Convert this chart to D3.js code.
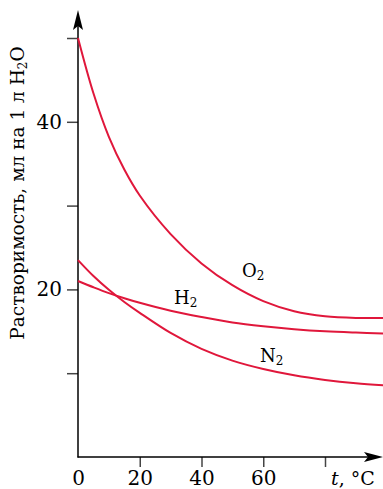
<!DOCTYPE html>
<html>
<head>
<meta charset="utf-8">
<script src="https://cdn.jsdelivr.net/npm/d3@7"></script>
<style>
  body { margin: 0; background: #fff; }
  svg { display: block; }
</style>
</head>
<body>
<svg id="chart" width="383" height="489"></svg>
<script>
// temperatures, °C
const temps = [0, 5, 10, 15, 20, 30, 40, 50, 60, 70, 80, 90, 99];
// solubility, ml per 1 l of water
const o2 = [50, 43.4, 38.2, 34.3, 31.2, 26.6, 23.1, 20.5, 18.6, 17.4, 16.8, 16.6, 16.6];
const h2 = [21.0, 20.25, 19.55, 18.95, 18.4, 17.45, 16.7, 16.05, 15.6, 15.25, 15.0, 14.85, 14.75];
const n2 = [23.5, 21.6, 19.95, 18.5, 17.2, 14.8, 12.9, 11.5, 10.5, 9.75, 9.2, 8.8, 8.55];

const yTicks = [10, 20, 30, 40, 50];
const yLabeled = [20, 40];
const xTicks = [0, 20, 40, 60, 80];
const xLabeled = [0, 20, 40, 60];

const series = [
  { name: "O", sub: "2", values: o2 },
  { name: "H", sub: "2", values: h2 },
  { name: "N", sub: "2", values: n2 },
];

const red = "#e0173b";
const font = "'DejaVu Serif', serif";

const svg = d3.select("#chart");

const x = d3.scaleLinear().domain([0, 80]).range([78, 325]);
const y = d3.scaleLinear().domain([0, 50]).range([457, 38]);

// axes
const yAxis = d3.axisLeft(y)
  .tickValues(yTicks)
  .tickSize(11)
  .tickPadding(5)
  .tickFormat((d) => (yLabeled.includes(d) ? d : ""));

const xAxis = d3.axisBottom(x)
  .tickValues(xTicks)
  .tickSize(10)
  .tickPadding(4)
  .tickFormat((d) => (xLabeled.includes(d) ? d : ""));

const gy = svg.append("g")
  .attr("transform", `translate(${x(0)},0)`)
  .call(yAxis);
const gx = svg.append("g")
  .attr("transform", `translate(0,${y(0)})`)
  .call(xAxis);

[gx, gy].forEach((g) => {
  g.select(".domain").remove();
  g.selectAll(".tick line").attr("stroke", "#444").attr("stroke-width", 1.5);
  g.selectAll(".tick text")
    .attr("fill", "#000")
    .attr("font-family", font)
    .attr("font-size", 20);
});
gx.selectAll(".tick").filter((d) => d === 0).select("line").remove();

// axis lines with arrows
svg.append("line")
  .attr("x1", x(0)).attr("y1", y(0) + 0.5)
  .attr("x2", x(0)).attr("y2", 22)
  .attr("stroke", "#000").attr("stroke-width", 1.5);
svg.append("line")
  .attr("x1", x(0) - 0.5).attr("y1", y(0))
  .attr("x2", 372).attr("y2", y(0))
  .attr("stroke", "#000").attr("stroke-width", 1.5);

svg.append("path")
  .attr("d", `M${x(0)},10 L${x(0) + 5},30 L${x(0)},26 L${x(0) - 5},30 Z`)
  .attr("fill", "#000");
svg.append("path")
  .attr("d", `M383,${y(0)} L364,${y(0) - 5} L368,${y(0)} L364,${y(0) + 5} Z`)
  .attr("fill", "#000");

// curves
const line = d3.line()
  .x((d) => x(d[0]))
  .y((d) => y(d[1]))
  .curve(d3.curveCatmullRom.alpha(0.5));

svg.append("g")
  .selectAll("path")
  .data(series)
  .join("path")
  .attr("d", (s) => line(temps.map((t, i) => [t, s.values[i]])))
  .attr("fill", "none")
  .attr("stroke", red)
  .attr("stroke-width", 2);

// curve labels
const labelPos = [
  { x: 242, y: 277 },
  { x: 174, y: 304 },
  { x: 260, y: 362 },
];
const labels = svg.append("g")
  .selectAll("text")
  .data(series)
  .join("text")
  .attr("x", (s, i) => labelPos[i].x)
  .attr("y", (s, i) => labelPos[i].y)
  .attr("font-family", font)
  .attr("font-size", 18);
labels.append("tspan").text((s) => s.name);
labels.append("tspan")
  .attr("font-size", 12)
  .attr("dy", 3)
  .text((s) => s.sub);

// x axis title
const xt = svg.append("text")
  .attr("x", 331)
  .attr("y", 485)
  .attr("font-family", font)
  .attr("font-size", 19);
xt.append("tspan").attr("font-style", "italic").text("t");
xt.append("tspan").text(", °C");

// y axis title
const yt = svg.append("text")
  .attr("transform", "translate(24,193) rotate(-90)")
  .attr("text-anchor", "middle")
  .attr("font-family", font)
  .attr("font-size", 18.5);
yt.append("tspan").text("Растворимость, мл на 1 л H");
yt.append("tspan").attr("font-size", 12).attr("dy", 3).text("2");
yt.append("tspan").attr("dy", -3).text("O");
</script>
</body>
</html>
